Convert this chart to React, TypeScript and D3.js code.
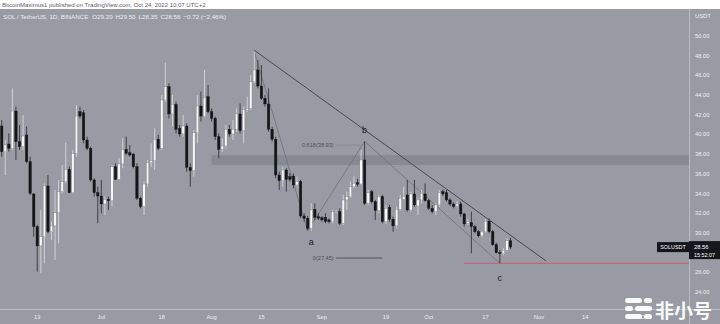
import React from "react";
import * as d3 from "d3";

// ---- data (SOL/USDT daily, Jun 3 – Oct 24 2022) ----
const startDay = "2022-06-03";
const openV = [40.86,38.25,39.03,38.59,42.38,39.27,38.76,39.95,37.24,33.96,
30.64,28.68,29.62,34.77,30.13,30.71,32.06,34.19,35.21,36.46,
34.09,38.08,42.31,42.21,39.44,38.59,35.38,34.09,33.75,32.94,
33.41,33.27,36.73,35.44,37.00,38.49,38.15,38.02,36.73,33.52,
32.67,34.97,37.14,37.34,39.51,38.59,43.50,44.85,42.08,43.06,
40.62,40.05,40.86,36.66,36.32,40.18,42.89,41.87,43.84,42.31,
41.64,39.78,38.49,38.83,40.52,40.05,40.52,42.08,40.39,42.48,
42.65,45.36,46.55,44.92,43.67,43.10,40.52,39.51,35.88,35.31,
36.39,35.72,35.78,34.87,35.21,31.72,31.49,30.47,32.40,31.65,
31.55,31.59,31.32,31.15,32.06,32.16,30.98,33.35,33.69,34.70,
35.11,34.97,37.41,33.01,34.19,33.18,32.27,33.69,31.15,32.60,
31.39,30.71,32.40,33.42,33.86,32.33,33.96,32.74,33.35,33.96,
33.28,32.50,32.16,32.84,34.19,34.09,33.35,32.94,32.74,32.94,
31.93,30.98,31.05,30.64,30.13,29.70,30.10,31.20,30.13,28.80,
28.00,27.90,28.25,29.20];
const highV = [41.47,39.44,40.11,44.68,42.82,40.96,41.98,40.79,37.75,34.02,
30.81,32.33,35.04,35.88,31.15,34.36,35.38,36.90,39.17,36.73,
38.42,42.99,42.82,42.48,39.78,38.76,35.55,34.70,35.38,33.68,
33.68,36.90,37.07,37.58,39.61,39.78,38.93,38.08,37.07,33.68,
35.21,37.41,39.10,40.62,39.95,44.01,47.29,45.19,44.01,43.33,
40.96,41.98,41.13,37.07,40.45,44.01,44.35,46.55,45.02,42.65,
41.81,40.11,39.61,40.96,40.96,41.47,42.65,43.16,42.82,43.84,
46.04,48.41,47.56,47.05,44.01,44.68,40.79,39.78,36.22,36.73,
36.56,36.05,36.05,35.72,35.38,31.99,31.72,33.01,33.01,31.99,
31.72,31.99,31.49,32.33,32.33,32.50,33.86,34.19,35.21,35.72,
35.50,38.42,39.27,34.36,34.36,33.35,33.86,33.86,32.80,32.84,
31.65,32.67,33.86,34.70,35.38,34.19,35.38,33.52,34.36,35.04,
33.42,32.84,33.01,34.36,34.43,34.36,33.52,33.10,33.20,33.18,
32.06,31.40,32.16,30.81,30.30,30.20,31.40,31.49,30.30,29.00,
28.27,28.45,29.45,29.50];
const lowV = [37.75,35.88,38.25,38.42,37.41,38.42,38.42,37.07,33.85,29.62,
26.07,25.90,26.92,29.96,29.29,27.25,28.95,34.02,35.04,34.02,
34.02,37.75,41.64,39.10,38.42,35.21,33.68,30.98,31.99,31.82,
32.33,32.67,35.38,35.38,36.56,37.91,37.75,36.56,33.35,32.50,
31.82,34.70,36.73,36.39,38.42,38.42,43.33,41.64,40.79,40.11,
39.78,39.78,36.22,34.70,35.72,39.10,41.30,41.74,42.14,41.30,
39.44,37.58,38.25,38.59,39.78,39.44,40.28,40.11,39.10,42.31,
42.48,45.19,44.68,43.50,42.82,40.28,39.27,35.55,34.36,34.70,
34.19,35.21,34.53,34.70,31.49,31.15,30.30,30.23,31.32,31.32,
31.15,30.98,30.98,30.98,31.99,30.81,30.81,32.33,33.52,34.53,
34.70,34.87,32.84,32.84,33.01,31.32,31.99,30.98,30.90,31.15,
30.13,30.47,32.27,33.35,32.16,32.16,32.67,31.82,33.01,33.18,
32.33,31.99,31.82,32.67,33.76,33.18,32.74,32.50,32.60,31.65,
30.64,30.80,27.93,29.96,29.55,29.60,30.00,29.96,28.70,27.90,
26.92,27.75,28.10,28.35];
const closeV = [38.25,38.93,38.59,42.38,39.27,38.76,39.84,37.24,34.02,30.64,
28.68,29.62,34.77,30.13,30.71,32.06,34.19,35.21,36.46,34.09,
38.08,41.87,41.87,39.44,38.59,35.38,34.09,33.75,32.94,33.41,
33.27,36.73,35.44,37.00,38.49,38.08,37.91,36.73,33.52,32.67,
34.97,37.14,37.34,39.51,38.59,43.50,44.85,42.08,43.06,40.52,
40.05,40.86,36.66,36.32,40.18,42.89,41.87,43.77,42.31,41.64,
39.78,38.49,38.83,40.52,40.05,40.52,42.08,40.39,42.55,42.65,
45.36,46.55,44.92,43.67,43.10,40.52,39.51,35.88,35.31,36.39,
35.44,35.44,34.87,35.21,31.72,31.49,30.47,32.33,31.59,31.49,
31.32,31.15,31.15,32.16,32.16,30.98,33.35,33.69,34.70,35.04,
34.94,37.41,33.01,34.09,33.18,32.27,33.69,31.15,32.50,31.39,
30.71,32.40,33.52,33.69,32.33,33.96,32.84,33.35,34.02,33.28,
32.50,32.16,32.84,34.09,33.96,33.35,32.94,32.67,32.94,31.93,
30.91,31.15,30.64,30.13,29.70,30.10,31.20,30.13,28.80,28.00,
27.90,28.25,29.20,28.56];

const yTicks = [24, 26, 28, 30, 32, 34, 36, 38, 40, 42, 44, 46, 48, 50];
const hiddenYTicks = [28]; // covered by the last-price label
const xTickDates = ["2022-06-13","2022-07-01","2022-07-18","2022-08-01","2022-08-15","2022-09-01","2022-09-19","2022-10-01","2022-10-17","2022-11-01","2022-11-14","2022-12-01"];
const xTickLabels = ["13","Jul","18","Aug","15","Sep","19","Oct","17","Nov","14","Dec"];

const trendLine: [string, number][] = [["2022-08-13", 48.55], ["2022-11-03", 27.15]];
const abcPath: [string, number][] = [["2022-08-13", 48.41], ["2022-08-28", 30.2], ["2022-09-13", 39.3], ["2022-10-21", 26.92]];
const zoneRange = [36.9, 37.9];
const zoneStart = "2022-08-01";
const supportPrice = 26.92;
const supportStart = "2022-10-11";
const fibLevels = [
  { label: "0.618(38.93)", price: 38.93, from: "2022-09-05", to: "2022-09-12", faint: true },
  { label: "0(27.45)", price: 27.45, from: "2022-09-05", to: "2022-09-18", faint: false },
];
const waveLabels: [string, string, number][] = [["a", "2022-08-29", 29.1], ["b", "2022-09-13", 40.5], ["c", "2022-10-21", 25.45]];
const lastPrice = 28.56;

const W = 720, H = 324;
const BG = "#989ba4";
const AXIS_TEXT = "#eceef2";
const FONT = "'Liberation Sans', Arial, sans-serif";

const pd = (s: string) => new Date(s + "T00:00:00Z");

export default function App() {
  const start = pd(startDay);
  const dates = openV.map((_, i) => d3.utcDay.offset(start, i));
  const x = d3.scaleUtc().domain([dates[0], dates[dates.length - 1]]).range([1.7, 510.5]);
  const y = d3.scaleLinear().domain([24, 50]).range([292, 36]);
  const plotRight = 689;
  const plotBottom = 309;
  const bw = 2.5;

  const line = d3.line<[string, number]>().x(d => x(pd(d[0]))).y(d => y(d[1]));

  const candles = dates.map((d, i) => {
    const o = openV[i], c = closeV[i], h = highV[i], l = lowV[i];
    const up = c >= o;
    const cx = x(d);
    const top = y(Math.max(o, c));
    const bh = Math.max(0.9, y(Math.min(o, c)) - top);
    return (
      <g key={i}>
        <line x1={cx} x2={cx} y1={y(h)} y2={y(l)} stroke={up ? "#dedfe2" : "#26282d"} strokeWidth={0.8} />
        <rect x={cx - bw / 2} y={top} width={bw} height={bh}
          fill={up ? "#f6f6f6" : "#141518"} stroke={up ? "#6b6e75" : "#141518"} strokeWidth={0.35} />
      </g>
    );
  });

  const yLast = y(lastPrice);

  return (
    <div style={{ width: W, height: H }}>
      <style>{`html,body{margin:0;padding:0;}`}</style>
      <svg width={W} height={H} style={{ display: "block" }} fontFamily={FONT}>
        <rect x={0} y={0} width={W} height={H} fill={BG} />
        {/* header */}
        <rect x={0} y={0} width={W} height={9} fill="#ffffff" />
        <text x={2} y={6.6} fontSize={6} fill="#5a5d63">BitcoinMaximus1 published on TradingView.com, Oct 24, 2022 10:07 UTC+2</text>
        <text x={3} y={19} fontSize={6.2} fill={AXIS_TEXT}>
          SOL / TetherUS, 1D, BINANCE<tspan dx={4}>O</tspan><tspan>29.20</tspan><tspan dx={3}>H</tspan><tspan>29.50</tspan>
          <tspan dx={3}>L</tspan><tspan>28.35</tspan><tspan dx={3}>C</tspan><tspan>28.56</tspan><tspan dx={3}>−0.72 (−2.46%)</tspan>
        </text>

        {/* resistance zone */}
        <rect x={x(pd(zoneStart))} y={y(zoneRange[1])} width={plotRight - x(pd(zoneStart))}
          height={y(zoneRange[0]) - y(zoneRange[1])} fill="#80848d" opacity={0.75} />

        {/* support line */}
        <line x1={x(pd(supportStart))} x2={plotRight} y1={y(supportPrice)} y2={y(supportPrice)} stroke="#c85a68" strokeWidth={1} />
        <line x1={x(pd("2022-10-17"))} x2={plotRight} y1={y(27.45)} y2={y(27.45)} stroke="#b88a92" strokeWidth={0.6} opacity={0.5} />

        {/* fib levels */}
        {fibLevels.map(f => (
          <g key={f.label}>
            <line x1={x(pd(f.from))} x2={x(pd(f.to))} y1={y(f.price)} y2={y(f.price)}
              stroke={f.faint ? "#8a8d95" : "#53565d"} strokeWidth={1} />
            <text x={x(pd(f.from)) - 2.5} y={y(f.price) + 2} fontSize={5.6} fill="#4d5057" textAnchor="end">{f.label}</text>
          </g>
        ))}

        {/* abc wave path */}
        <path d={line(abcPath) || ""} fill="none" stroke="#6e7179" strokeWidth={0.8} />

        {candles}

        {/* main trend line */}
        <path d={line(trendLine) || ""} fill="none" stroke="#46494f" strokeWidth={1} />

        {/* wave labels */}
        {waveLabels.map(([t, d, p]) => (
          <text key={t} x={x(pd(d))} y={y(p) + 3} fontSize={9} fill="#1b1c20" textAnchor="middle">{t}</text>
        ))}

        {/* axes */}
        <line x1={plotRight + 0.5} x2={plotRight + 0.5} y1={9} y2={H} stroke="#b9bcc3" strokeWidth={1} />
        <line x1={0} x2={W} y1={plotBottom + 0.5} y2={plotBottom + 0.5} stroke="#b9bcc3" strokeWidth={1} />
        <text x={695} y={18} fontSize={5.8} fill={AXIS_TEXT}>USDT</text>
        {yTicks.filter(t => !hiddenYTicks.includes(t)).map(t => (
          <text key={t} x={695} y={y(t) + 2} fontSize={5.8} fill={AXIS_TEXT}>{t.toFixed(2)}</text>
        ))}
        {xTickDates.map((d, i) => (
          <text key={d} x={x(pd(d))} y={318.5} fontSize={5.8} fill={AXIS_TEXT} textAnchor="middle">{xTickLabels[i]}</text>
        ))}

        {/* last price labels */}
        <rect x={657} y={yLast - 5} width={32} height={10} fill="#15171c" />
        <text x={673} y={yLast + 2} fontSize={5.4} fill="#ffffff" textAnchor="middle">SOLUSDT</text>
        <rect x={689} y={yLast - 6} width={31} height={18} fill="#15171c" />
        <text x={694} y={yLast + 2} fontSize={5.8} fill="#ffffff">28.56</text>
        <text x={694} y={yLast + 9.5} fontSize={5.4} fill="#ffffff">15:52:07</text>

        {/* watermark */}
        <g fill="#ffffff" opacity={0.95}>
          <rect x={625} y={298} width={17} height={5} rx={2.5} />
          <rect x={644} y={298} width={8} height={5} rx={2.5} />
          <rect x={625} y={306} width={8} height={5} rx={2.5} />
          <rect x={635} y={306} width={17} height={5} rx={2.5} />
          <rect x={625} y={314} width={17} height={5} rx={2.5} />
          <rect x={644} y={314} width={8} height={5} rx={2.5} />
          <text x={655} y={318} fontSize={19} fontWeight="bold" fontFamily="'Noto Sans CJK SC', sans-serif">非小号</text>
        </g>
      </svg>
    </div>
  );
}
